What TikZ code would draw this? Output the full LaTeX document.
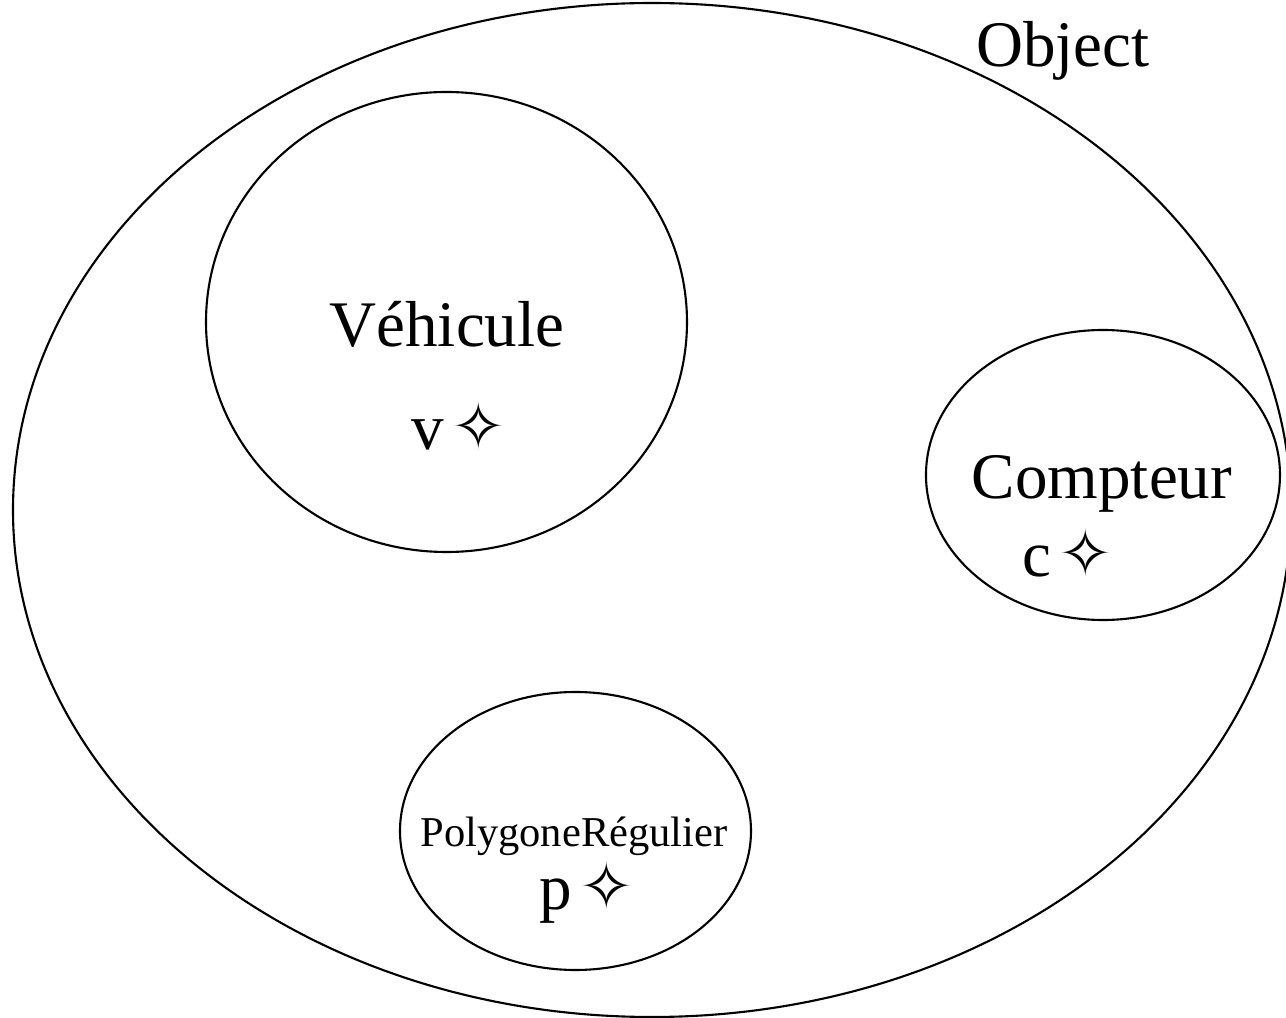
\documentclass[tikz,border=0pt]{standalone}
\usepackage{fontspec}
\setmainfont{Liberation Serif}
\newfontfamily\starfont{DejaVu Sans}
\usetikzlibrary{shapes.geometric}
\newcommand{\inst}[1]{#1\hspace{2pt}\smash{\starfont ✧}}
\tikzset{
  classset/.style={draw, ellipse, line width=0.6pt, inner sep=0pt},
  big/.style={anchor=base, inner sep=0pt, font=\fontsize{18.5}{22}\selectfont},
  small/.style={anchor=base, inner sep=0pt, font=\fontsize{12.1}{14}\selectfont},
}
\begin{document}
\begin{tikzpicture}

\useasboundingbox (0,0) rectangle (12.86,10.18);

% ensembles
\node[classset, minimum width=12.78cm, minimum height=10.14cm] (obj) at (6.52, 5.08) {};
\node[classset, minimum width=4.81cm, minimum height=4.60cm] (veh) at (4.465, 6.96) {};
\node[classset, minimum width=3.54cm, minimum height=2.90cm] (cpt) at (11.03, 5.43) {};
\node[classset, minimum width=3.51cm, minimum height=2.78cm] (poly) at (5.755, 1.87) {};

% noms et instances
\node[big] (objname) at (10.63, 9.51) {Object};
\node[big] (vehname) at (4.47, 6.71) {Véhicule};
\node[big] (v) at (4.59, 5.68) {\inst{v}};
\node[big] (cptname) at (11.02, 5.19) {Compteur};
\node[big] (c) at (10.675, 4.41) {\inst{c}};
\node[small] (polyname) at (5.74, 1.71) {PolygoneRégulier};
\node[big] (p) at (5.865, 1.08) {\inst{p}};

\end{tikzpicture}
\end{document}
